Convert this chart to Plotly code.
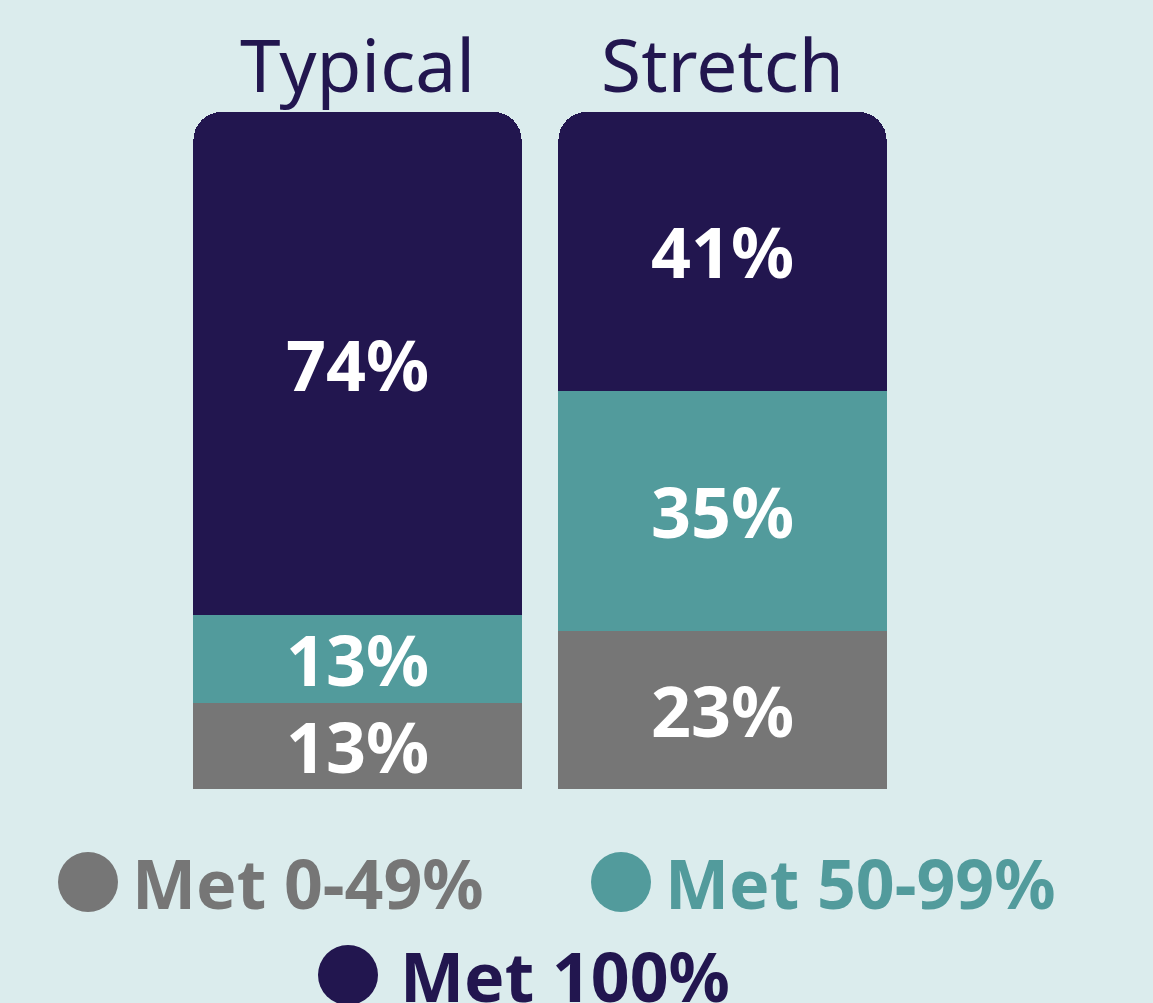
import plotly.graph_objects as go

categories = ["Typical", "Stretch"]
met_0_49 = [12.7, 23.4]
met_50_99 = [13.0, 35.4]
met_100 = [74.3, 41.2]
series_names = ["Met 0-49%", "Met 50-99%", "Met 100%"]
colors = ["#767676", "#529b9c", "#22164f"]
BG = "#dbeced"
FONT = "Noto Sans"

fig = go.Figure()
for name, vals, col in zip(series_names, [met_0_49, met_50_99, met_100], colors):
    fig.add_trace(go.Bar(
        x=categories, y=vals, name=name, marker=dict(color=col, line=dict(width=0)),
        texttemplate="%{y:.0f}%", textposition="inside", insidetextanchor="middle",
        textfont=dict(family=FONT, size=70, color="white", weight="bold"),
        showlegend=False, hoverinfo="skip",
    ))

L, R, T, B = 175, 248, 112, 214
PW, PH = 1153 - L - R, 1003 - T - B

fig.update_layout(
    barmode="stack", bargap=0.101, barcornerradius=28,
    width=1153, height=1003,
    paper_bgcolor=BG, plot_bgcolor=BG,
    margin=dict(l=L, r=R, t=T, b=B),
    uniformtext=dict(minsize=70, mode="show"),
    xaxis=dict(side="top", showgrid=False, zeroline=False, showline=False, ticks="",
               tickfont=dict(family=FONT, size=73, color="#22164f"), ticklabelstandoff=4),
    yaxis=dict(range=[0, 100], visible=False),
)

# Legend drawn as annotations (large circle markers)
legend_items = [
    (series_names[0], colors[0], 88, 882, 130),
    (series_names[1], colors[1], 621, 882, 663),
    (series_names[2], colors[2], 348, 975, 398),
]
for name, col, cx, cy, tx in legend_items:
    fig.add_shape(type="circle", xref="paper", yref="paper",
                  x0=(cx - 30 - L) / PW, x1=(cx + 30 - L) / PW,
                  y0=(1003 - B - cy - 30) / PH, y1=(1003 - B - cy + 30) / PH,
                  fillcolor=col, line=dict(width=0))
    fig.add_annotation(xref="paper", yref="paper", x=(tx - L) / PW, y=(1003 - B - cy) / PH,
                       xanchor="left", yanchor="middle", showarrow=False,
                       text=f"<b>{name}</b>",
                       font=dict(family=FONT, size=68, color=col))

fig.write_html(
    "out.html",
    config={"displayModeBar": False},
    post_script="document.body.style.margin='0';document.body.style.background='%s';"
                "document.documentElement.style.overflow='hidden';" % BG,
)
